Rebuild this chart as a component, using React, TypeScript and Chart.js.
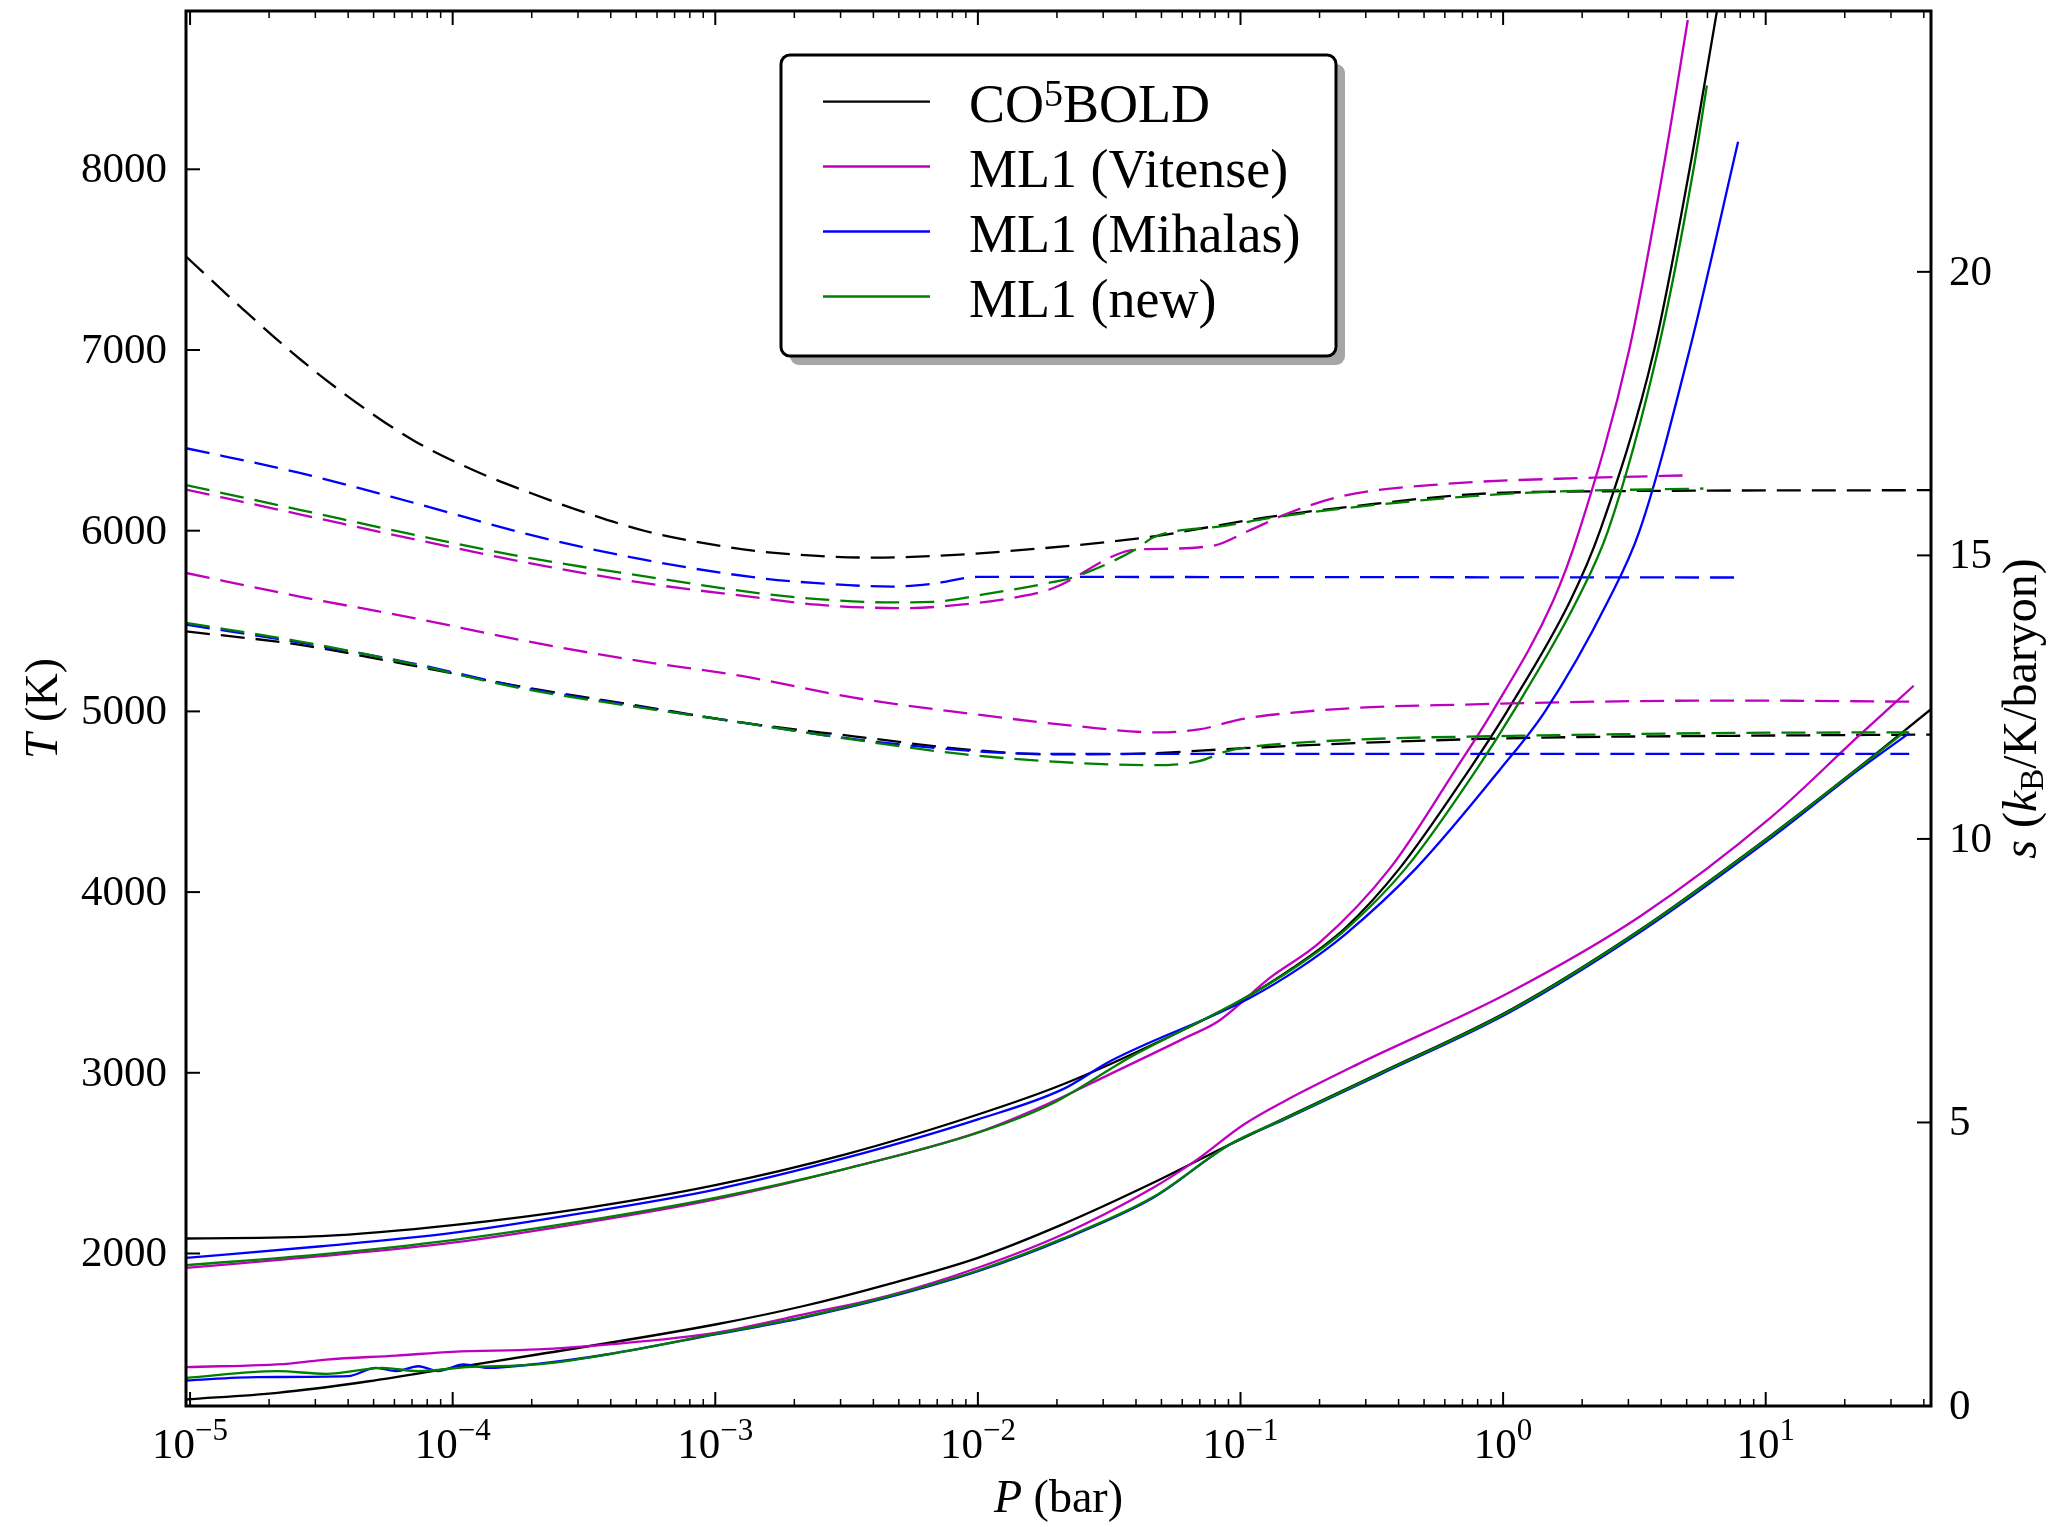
import React, { useEffect, useRef } from "react";
import { Chart, registerables } from "chart.js";

Chart.register(...registerables);

const W = 2051;
const H = 1527;
const FAM = '"Liberation Serif", "Times New Roman", serif';

// ---------- Axis ranges and ticks ----------
const X_MIN = 9.65e-6;
const X_MAX = 42.6;
const T_MIN = 1156;
const T_MAX = 8876;
const S_MIN = 0;
const S_MAX = 24.6;

const P_MAJOR = [1e-5, 1e-4, 1e-3, 1e-2, 1e-1, 1, 10];
const P_EXP = ["\u22125", "\u22124", "\u22123", "\u22122", "\u22121", "0", "1"];
const T_TICKS = [2000, 3000, 4000, 5000, 6000, 7000, 8000];
const S_TICKS = [0, 5, 10, 15, 20];

// ---------- Temperature profiles (solid, left axis), model A ----------
const coA_P = [9.65e-6, 3.16e-5, 1e-4, 3.16e-4, 1e-3, 3.16e-3, 1e-2, 2.1e-2, 5.25e-2, 0.1, 0.158, 0.25, 0.405, 0.746, 1.035, 1.8, 2.34, 3.76, 5.13, 6.53];
const coA_T = [2083, 2096, 2157, 2250, 2378, 2550, 2769, 2935, 3194, 3400, 3580, 3800, 4134, 4681, 5000, 5611, 6000, 7000, 8000, 8880];

const vitA_P = [9.65e-6, 3.16e-5, 1e-4, 3.16e-4, 1e-3, 3.16e-3, 1e-2, 1.86e-2, 3.16e-2, 6.3e-2, 8.2e-2, 0.129, 0.2, 0.372, 0.661, 0.912, 1.55, 1.95, 3.02, 4.07, 5.05];
const vitA_T = [1920, 1985, 2060, 2170, 2300, 2470, 2670, 2830, 2990, 3200, 3284, 3524, 3720, 4134, 4681, 5000, 5611, 6000, 7000, 8000, 8826];

const mihA_P = [9.65e-6, 3.16e-5, 1e-4, 3.16e-4, 1e-3, 3.16e-3, 1e-2, 2.1e-2, 3.2e-2, 0.108, 0.17, 0.25, 0.468, 0.977, 1.445, 2.51, 3.31, 5.13, 7.85];
const mihA_T = [1976, 2040, 2114, 2225, 2354, 2530, 2742, 2908, 3065, 3413, 3585, 3765, 4134, 4681, 5000, 5611, 6000, 7000, 8152];

const newA_P = [9.65e-6, 3.16e-5, 1e-4, 3.16e-4, 1e-3, 3.16e-3, 1e-2, 1.86e-2, 3.86e-2, 5.9e-2, 9.9e-2, 0.16, 0.25, 0.427, 0.794, 1.096, 1.905, 2.51, 3.89, 5.31, 5.97];
const newA_T = [1935, 1995, 2074, 2180, 2308, 2470, 2668, 2820, 3092, 3230, 3397, 3580, 3790, 4134, 4681, 5000, 5611, 6000, 7000, 8000, 8464];

// ---------- Temperature profiles (solid, left axis), model B ----------
const coB_P = [9.65e-6, 2.15e-5, 4.8e-5, 1e-4, 2.1e-4, 1e-3, 2.15e-3, 4.5e-3, 1e-2, 2.1e-2, 4.65e-2, 9.1e-2, 0.339, 1.06, 3.34, 10.5, 22.5, 42.6];
const coB_T = [1192, 1229, 1293, 1367, 1441, 1607, 1708, 1828, 1976, 2161, 2391, 2603, 2998, 3346, 3793, 4315, 4687, 5012];

const vitB_P = [9.65e-6, 2.4e-5, 3.3e-5, 6.1e-5, 1e-4, 2.1e-4, 3.86e-4, 1e-3, 2.15e-3, 4.5e-3, 1e-2, 2.1e-2, 4.65e-2, 6.7e-2, 0.103, 0.147, 0.28, 1.06, 3.34, 10.5, 22.5, 36.6];
const vitB_T = [1371, 1391, 1413, 1435, 1456, 1469, 1496, 1561, 1662, 1764, 1921, 2105, 2364, 2511, 2714, 2843, 3048, 3446, 3868, 4415, 4862, 5142];

const mihB_P = [9.65e-6, 1.8e-5, 4e-5, 5.1e-5, 6.1e-5, 7.4e-5, 8.8e-5, 1.1e-4, 1.36e-4, 2.1e-4, 3.86e-4, 1e-3, 2.15e-3, 4.5e-3, 1e-2, 2.1e-2, 4.65e-2, 9.1e-2, 0.147, 0.339, 1.06, 3.34, 10.5, 22.5, 35.2];
const mihB_T = [1297, 1316, 1321, 1367, 1349, 1376, 1349, 1386, 1367, 1389, 1441, 1552, 1644, 1755, 1902, 2077, 2308, 2603, 2742, 2990, 3335, 3780, 4300, 4675, 4880];

const newB_P = [9.65e-6, 2.15e-5, 3.3e-5, 5.4e-5, 7.4e-5, 1.13e-4, 2.1e-4, 3.86e-4, 1e-3, 2.15e-3, 4.5e-3, 1e-2, 2.1e-2, 4.65e-2, 9.1e-2, 0.147, 0.339, 1.06, 3.34, 10.5, 22.5, 34.2];
const newB_T = [1312, 1349, 1334, 1367, 1349, 1371, 1386, 1441, 1555, 1648, 1760, 1906, 2082, 2312, 2603, 2745, 2995, 3342, 3790, 4312, 4685, 4893];

// ---------- Entropy (dashed, right axis), model A ----------
const coAs_P = [9.65e-6, 1.6e-5, 2.64e-5, 4.4e-5, 7.2e-5, 1.19e-4, 1.98e-4, 3.27e-4, 5.4e-4, 8.95e-4, 1.48e-3, 2.45e-3, 4.06e-3, 6.7e-3, 1.11e-2, 4.4e-2, 0.125, 0.274, 0.778, 2.21, 42.6];
const coAs_S = [20.27, 19.33, 18.45, 17.66, 17.01, 16.51, 16.1, 15.74, 15.43, 15.22, 15.07, 14.99, 14.96, 14.99, 15.05, 15.32, 15.67, 15.87, 16.08, 16.13, 16.15];

const vitAs_P = [9.65e-6, 2.64e-5, 7.2e-5, 1.98e-4, 5.4e-4, 1.48e-3, 2.45e-3, 5.2e-3, 8.6e-3, 1.43e-2, 1.93e-2, 3.8e-2, 4.4e-2, 7.85e-2, 0.107, 0.155, 0.247, 0.603, 2.21, 4.95];
const vitAs_S = [16.16, 15.72, 15.28, 14.86, 14.51, 14.25, 14.13, 14.07, 14.13, 14.27, 14.42, 15.09, 15.11, 15.17, 15.43, 15.76, 16.05, 16.26, 16.37, 16.41];

const mihAs_P = [9.65e-6, 2.64e-5, 7.2e-5, 1.98e-4, 5.4e-4, 1.48e-3, 2.45e-3, 4.7e-3, 6.7e-3, 1.0e-2, 7.69];
const mihAs_S = [16.89, 16.45, 15.92, 15.36, 14.92, 14.6, 14.51, 14.45, 14.5, 14.62, 14.61];

const newAs_P = [9.65e-6, 2.64e-5, 7.2e-5, 1.98e-4, 5.4e-4, 1.48e-3, 2.45e-3, 4.7e-3, 6.7e-3, 1.11e-2, 1.84e-2, 2.3e-2, 4e-2, 4.67e-2, 8.7e-2, 0.139, 0.462, 1.31, 5.79];
const newAs_S = [16.24, 15.8, 15.36, 14.95, 14.63, 14.33, 14.23, 14.17, 14.18, 14.33, 14.51, 14.61, 15.11, 15.32, 15.52, 15.68, 15.96, 16.11, 16.18];

// ---------- Entropy (dashed, right axis), model B ----------
const coBs_P = [9.65e-6, 2.56e-5, 6.8e-5, 1.8e-4, 4.8e-4, 1.27e-3, 3.37e-3, 8.95e-3, 1.95e-2, 3.87e-2, 0.103, 0.273, 1.18, 8.3, 42.6];
const coBs_S = [13.66, 13.43, 13.07, 12.69, 12.37, 12.05, 11.81, 11.58, 11.49, 11.5, 11.6, 11.69, 11.78, 11.82, 11.84];

const vitBs_P = [9.65e-6, 2.64e-5, 7.2e-5, 1.8e-4, 4.8e-4, 1.27e-3, 3.37e-3, 8.95e-3, 2.38e-2, 4.7e-2, 6.95e-2, 9.8e-2, 0.113, 0.273, 0.724, 3.13, 8.3, 36];
const vitBs_S = [14.69, 14.27, 13.89, 13.51, 13.16, 12.87, 12.49, 12.22, 11.99, 11.88, 11.93, 12.1, 12.15, 12.31, 12.37, 12.43, 12.44, 12.42];

const mihBs_P = [9.65e-6, 2.56e-5, 6.8e-5, 1.8e-4, 4.8e-4, 1.27e-3, 3.37e-3, 8.95e-3, 1.77e-2, 35.2];
const mihBs_S = [13.78, 13.47, 13.11, 12.68, 12.35, 12.05, 11.76, 11.56, 11.5, 11.5];

const newBs_P = [9.65e-6, 2.56e-5, 6.8e-5, 1.8e-4, 4.8e-4, 1.27e-3, 3.37e-3, 8.95e-3, 2.38e-2, 4.7e-2, 6.95e-2, 8.9e-2, 0.113, 0.273, 1.18, 8.3, 35.2];
const newBs_S = [13.81, 13.49, 13.1, 12.66, 12.34, 12.05, 11.75, 11.49, 11.34, 11.3, 11.37, 11.55, 11.63, 11.75, 11.82, 11.87, 11.88];

// ---------- Styles ----------
const C_CO = "#000000";
const C_VIT = "#bf00bf";
const C_MIH = "#0000ff";
const C_NEW = "#008000";

const LEGEND_NAMES = ["CO5BOLD", "ML1 (Vitense)", "ML1 (Mihalas)", "ML1 (new)"];
const LEGEND_COLORS = [C_CO, C_VIT, C_MIH, C_NEW];

type Series = { P: number[]; V: number[]; color: string; axis: string; dashed: boolean; order: number };

const SERIES: Series[] = [
  { P: coA_P, V: coA_T, color: C_CO, axis: "y", dashed: false, order: 3 },
  { P: vitA_P, V: vitA_T, color: C_VIT, axis: "y", dashed: false, order: 2 },
  { P: mihA_P, V: mihA_T, color: C_MIH, axis: "y", dashed: false, order: 1 },
  { P: newA_P, V: newA_T, color: C_NEW, axis: "y", dashed: false, order: 0 },
  { P: coB_P, V: coB_T, color: C_CO, axis: "y", dashed: false, order: 3 },
  { P: vitB_P, V: vitB_T, color: C_VIT, axis: "y", dashed: false, order: 2 },
  { P: mihB_P, V: mihB_T, color: C_MIH, axis: "y", dashed: false, order: 1 },
  { P: newB_P, V: newB_T, color: C_NEW, axis: "y", dashed: false, order: 0 },
  { P: coAs_P, V: coAs_S, color: C_CO, axis: "y2", dashed: true, order: 3 },
  { P: vitAs_P, V: vitAs_S, color: C_VIT, axis: "y2", dashed: true, order: 2 },
  { P: mihAs_P, V: mihAs_S, color: C_MIH, axis: "y2", dashed: true, order: 1 },
  { P: newAs_P, V: newAs_S, color: C_NEW, axis: "y2", dashed: true, order: 0 },
  { P: coBs_P, V: coBs_S, color: C_CO, axis: "y2", dashed: true, order: 3 },
  { P: vitBs_P, V: vitBs_S, color: C_VIT, axis: "y2", dashed: true, order: 2 },
  { P: mihBs_P, V: mihBs_S, color: C_MIH, axis: "y2", dashed: true, order: 1 },
  { P: newBs_P, V: newBs_S, color: C_NEW, axis: "y2", dashed: true, order: 0 },
];

type Part = { text: string; font: string; dy?: number };

const f = (size: number, italic = false) => `${italic ? "italic " : ""}${size}px ${FAM}`;

function richWidth(ctx: CanvasRenderingContext2D, parts: Part[]) {
  let w = 0;
  for (const p of parts) {
    ctx.font = p.font;
    w += ctx.measureText(p.text).width;
  }
  return w;
}

function drawRich(ctx: CanvasRenderingContext2D, parts: Part[], x: number, y: number) {
  let cx = x;
  for (const p of parts) {
    ctx.font = p.font;
    ctx.fillText(p.text, cx, y + (p.dy || 0));
    cx += ctx.measureText(p.text).width;
  }
}

function roundRect(ctx: CanvasRenderingContext2D, x: number, y: number, w: number, h: number, r: number) {
  ctx.beginPath();
  ctx.moveTo(x + r, y);
  ctx.lineTo(x + w - r, y);
  ctx.arcTo(x + w, y, x + w, y + r, r);
  ctx.lineTo(x + w, y + h - r);
  ctx.arcTo(x + w, y + h, x + w - r, y + h, r);
  ctx.lineTo(x + r, y + h);
  ctx.arcTo(x, y + h, x, y + h - r, r);
  ctx.lineTo(x, y + r);
  ctx.arcTo(x, y, x + r, y, r);
  ctx.closePath();
}

const mplPlugin = {
  id: "mplDecor",
  afterDraw(chart: any) {
    const ctx: CanvasRenderingContext2D = chart.ctx;
    const { left, right, top, bottom } = chart.chartArea;
    const xs = chart.scales.x;
    const ys = chart.scales.y;
    const ss = chart.scales.y2;
    ctx.save();
    ctx.strokeStyle = "#000";
    ctx.fillStyle = "#000";
    ctx.lineCap = "butt";
    ctx.textBaseline = "alphabetic";
    ctx.textAlign = "left";

    const seg = (x1: number, y1: number, x2: number, y2: number) => {
      ctx.beginPath();
      ctx.moveTo(x1, y1);
      ctx.lineTo(x2, y2);
      ctx.stroke();
    };

    // major x ticks (bottom and top, inward)
    ctx.lineWidth = 2;
    for (const v of P_MAJOR) {
      const px = xs.getPixelForValue(v);
      seg(px, bottom, px, bottom - 14);
      seg(px, top, px, top + 14);
    }
    // minor x ticks
    ctx.lineWidth = 1.5;
    for (let d = -6; d <= 1; d++) {
      for (let k = 2; k <= 9; k++) {
        const v = k * Math.pow(10, d);
        if (v <= X_MIN || v >= X_MAX) continue;
        const px = xs.getPixelForValue(v);
        seg(px, bottom, px, bottom - 7);
        seg(px, top, px, top + 7);
      }
    }
    // left (T) ticks
    ctx.lineWidth = 2;
    for (const v of T_TICKS) {
      const py = ys.getPixelForValue(v);
      seg(left, py, left + 14, py);
    }
    // right (s) ticks
    for (const v of S_TICKS) {
      const py = ss.getPixelForValue(v);
      seg(right, py, right - 14, py);
    }

    // frame
    ctx.lineWidth = 3;
    ctx.strokeRect(left, top, right - left, bottom - top);

    // x tick labels
    P_MAJOR.forEach((v, i) => {
      const px = xs.getPixelForValue(v);
      const parts: Part[] = [
        { text: "10", font: f(43) },
        { text: P_EXP[i], font: f(31), dy: -18 },
      ];
      const w = richWidth(ctx, parts);
      drawRich(ctx, parts, px - w / 2, bottom + 52);
    });

    // left tick labels
    ctx.font = f(43);
    for (const v of T_TICKS) {
      const py = ys.getPixelForValue(v);
      const t = String(v);
      const w = ctx.measureText(t).width;
      ctx.fillText(t, left - 19 - w, py + 13);
    }
    // right tick labels
    for (const v of S_TICKS) {
      const py = ss.getPixelForValue(v);
      ctx.fillText(String(v), right + 18, py + 13);
    }

    // x axis label
    {
      const parts: Part[] = [
        { text: "P", font: f(46, true) },
        { text: " (bar)", font: f(46) },
      ];
      const w = richWidth(ctx, parts);
      drawRich(ctx, parts, (left + right) / 2 - w / 2, 1512);
    }
    // left axis label
    {
      const parts: Part[] = [
        { text: "T", font: f(46, true) },
        { text: " (K)", font: f(46) },
      ];
      const w = richWidth(ctx, parts);
      ctx.save();
      ctx.translate(57, (top + bottom) / 2);
      ctx.rotate(-Math.PI / 2);
      drawRich(ctx, parts, -w / 2, 0);
      ctx.restore();
    }
    // right axis label
    {
      const parts: Part[] = [
        { text: "s", font: f(48, true) },
        { text: " (", font: f(48) },
        { text: "k", font: f(48, true) },
        { text: "B", font: f(33), dy: 7 },
        { text: "/K/baryon)", font: f(48) },
      ];
      const w = richWidth(ctx, parts);
      ctx.save();
      ctx.translate(2036, (top + bottom) / 2);
      ctx.rotate(-Math.PI / 2);
      drawRich(ctx, parts, -w / 2, 0);
      ctx.restore();
    }

    // legend
    const bx = 781, by = 55, bw = 555, bh = 301;
    ctx.fillStyle = "#a6a6a6";
    roundRect(ctx, bx + 9, by + 9, bw, bh, 9);
    ctx.fill();
    ctx.fillStyle = "#ffffff";
    roundRect(ctx, bx, by, bw, bh, 9);
    ctx.fill();
    ctx.lineWidth = 3;
    ctx.strokeStyle = "#000";
    ctx.stroke();

    const rows = [101.7, 166.5, 231.5, 296.5];
    LEGEND_NAMES.forEach((name, i) => {
      const ly = rows[i];
      ctx.strokeStyle = LEGEND_COLORS[i];
      ctx.lineWidth = 2.3;
      seg(823, ly, 930, ly);
      ctx.fillStyle = "#000";
      let parts: Part[];
      if (name === "CO5BOLD") {
        parts = [
          { text: "CO", font: f(54) },
          { text: "5", font: f(38), dy: -16 },
          { text: "BOLD", font: f(54) },
        ];
      } else {
        parts = [{ text: name, font: f(54) }];
      }
      drawRich(ctx, parts, 969, ly + 20);
    });

    ctx.restore();
  },
};

export default function App() {
  const canvasRef = useRef<HTMLCanvasElement | null>(null);

  useEffect(() => {
    const canvas = canvasRef.current;
    if (!canvas) return;
    const datasets = SERIES.map((s) => ({
      data: s.P.map((p, i) => ({ x: p, y: s.V[i] })),
      yAxisID: s.axis,
      borderColor: s.color,
      backgroundColor: s.color,
      borderWidth: 2.3,
      borderDash: s.dashed ? [24, 11] : [],
      pointRadius: 0,
      fill: false,
      cubicInterpolationMode: "monotone" as const,
      order: s.order,
    }));

    const chart = new Chart(canvas, {
      type: "line",
      data: { datasets },
      options: {
        responsive: false,
        animation: false,
        devicePixelRatio: 1,
        layout: { padding: { left: 186, right: W - 1931, top: 11, bottom: H - 1406 } },
        plugins: {
          legend: { display: false },
          tooltip: { enabled: false },
          title: { display: false },
        },
        elements: {
          point: { radius: 0 },
          line: { borderCapStyle: "butt", borderJoinStyle: "round" },
        },
        scales: {
          x: { type: "logarithmic", min: X_MIN, max: X_MAX, display: false },
          y: { type: "linear", min: T_MIN, max: T_MAX, display: false },
          y2: { type: "linear", min: S_MIN, max: S_MAX, display: false, position: "right" },
        },
      } as any,
      plugins: [mplPlugin as any],
    });

    return () => chart.destroy();
  }, []);

  return (
    <div style={{ position: "fixed", left: 0, top: 0, width: W, height: H, background: "#fff" }}>
      <canvas ref={canvasRef} width={W} height={H} style={{ display: "block" }} />
    </div>
  );
}
